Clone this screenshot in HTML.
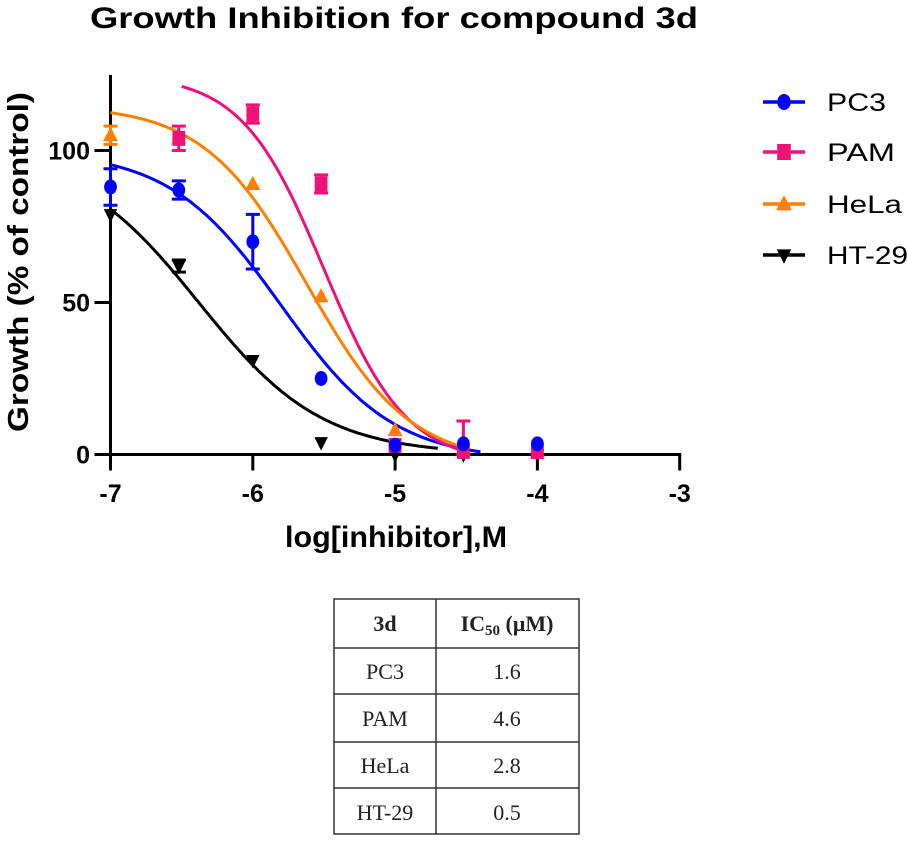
<!DOCTYPE html>
<html><head><meta charset="utf-8"><style>
html,body{margin:0;padding:0;background:#fff;}
svg{display:block;}
</style></head><body>
<svg id="chart" width="908" height="843" viewBox="0 0 908 843" xmlns="http://www.w3.org/2000/svg" font-family="Liberation Sans, Arial, sans-serif">
<text x="394" y="28" text-anchor="middle" font-weight="bold" font-size="30" textLength="608" lengthAdjust="spacingAndGlyphs">Growth Inhibition for compound 3d</text>
<g id="axes"></g>
<g id="curves"></g>
<g id="points"></g>
<g id="legend"></g>
<text transform="translate(28,262) rotate(-90)" text-anchor="middle" font-weight="bold" font-size="29" textLength="340" lengthAdjust="spacingAndGlyphs">Growth (% of control)</text>
<text x="396" y="547" text-anchor="middle" font-weight="bold" font-size="30" textLength="222" lengthAdjust="spacingAndGlyphs">log[inhibitor],M</text>
<g font-family="Liberation Serif, serif" font-size="22" fill="#222">
<rect x="334" y="599" width="245" height="235" fill="none" stroke="#333" stroke-width="1.5"/>
<line x1="436" y1="599" x2="436" y2="834" stroke="#333" stroke-width="1.5"/>
<line x1="334" y1="648" x2="579" y2="648" stroke="#333" stroke-width="1.5"/>
<line x1="334" y1="694" x2="579" y2="694" stroke="#333" stroke-width="1.5"/>
<line x1="334" y1="742" x2="579" y2="742" stroke="#333" stroke-width="1.5"/>
<line x1="334" y1="788" x2="579" y2="788" stroke="#333" stroke-width="1.5"/>
<text x="385" y="631" text-anchor="middle" font-weight="bold">3d</text>
<text x="507" y="631" text-anchor="middle" font-weight="bold">IC<tspan font-size="15" dy="4">50</tspan><tspan dy="-4"> (μM)</tspan></text>
<text x="385" y="679" text-anchor="middle">PC3</text><text x="507" y="679" text-anchor="middle">1.6</text>
<text x="385" y="726" text-anchor="middle">PAM</text><text x="507" y="726" text-anchor="middle">4.6</text>
<text x="385" y="773" text-anchor="middle">HeLa</text><text x="507" y="773" text-anchor="middle">2.8</text>
<text x="385" y="820" text-anchor="middle">HT-29</text><text x="507" y="820" text-anchor="middle">0.5</text>
</g>
</svg>
<script>
const xTicks = [-7, -6, -5, -4, -3];
const yTicks = [0, 50, 100];
const seriesNames = ["PC3", "PAM", "HeLa", "HT-29"];
const seriesColors = ["#0000ff", "#ee1177", "#ff7f00", "#000000"];
const doses = [-7, -6.52, -6, -5.52, -5, -4.52, -4];
const pc3Values = [88, 87, 70, 25, 3, 3.5, 3.5];
const pc3Errors = [6, 3, 9, 0, 0, 0, 0];
const pamValues = [null, 104, 112, 89, 3, 1, 1];
const pamErrors = [0, 4, 3, 3, 0, 10, 0];
const helaValues = [105, 104, 89, 52, 8, 2, 1];
const helaErrors = [3, 0, 0, 0, 0, 0, 0];
const ht29Values = [79, 62, 31, 4, 0, 0, 0];
const ht29Errors = [0, 2, 0, 0, 0, 0, 0];
// 4PL fit params
const fitTop = [100, 125, 115, 100];
const fitBottom = [-2, -3, -3, 0];
const fitLogIC50 = [-5.8, -5.5, -5.62, -6.38];
const fitHill = [1.1, 1.5, 1.2, 1.0];
const fitStart = [-7, -6.5, -7, -7];
const fitEnd = [-4.4, -4.52, -4.52, -4.7];

const NS = "http://www.w3.org/2000/svg";
const X0 = 110.5, XPX = 142.3, Y0 = 454.5, YPX = 3.04;
const xs = v => X0 + (v + 7) * XPX;
const ys = v => Y0 - v * YPX;
function mk(tag, attrs, parent){const e=document.createElementNS(NS,tag);for(const k in attrs)e.setAttribute(k,attrs[k]);parent.appendChild(e);return e;}

const axes = document.getElementById('axes');
let a = mk('line',{x1:X0,y1:75,x2:X0,y2:Y0+1.5,stroke:'#000','stroke-width':3},axes);
 
a = mk('line',{x1:X0-1.5,y1:Y0,x2:xs(-3)+1.5,y2:Y0,stroke:'#000','stroke-width':3},axes);
 
xTicks.forEach(t=>{
  const l=mk('line',{x1:xs(t),y1:Y0,x2:xs(t),y2:Y0+16,stroke:'#000','stroke-width':3},axes);
   
  const tx=mk('text',{x:xs(t),y:502,'text-anchor':'middle','font-weight':'bold','font-size':25},axes);
   
  tx.textContent=String(t);
});
yTicks.forEach(t=>{
  const l=mk('line',{x1:X0-16,y1:ys(t),x2:X0,y2:ys(t),stroke:'#000','stroke-width':3},axes);
   
  const tx=mk('text',{x:90,y:ys(t)+9,'text-anchor':'end','font-weight':'bold','font-size':25},axes);
   
  tx.textContent=String(t);
});

const curves = document.getElementById('curves');
for(let s=0;s<4;s++){
  let d='';
  for(let i=0;i<=120;i++){
    const x=fitStart[s]+(fitEnd[s]-fitStart[s])*i/120;
    const y=fitBottom[s]+(fitTop[s]-fitBottom[s])/(1+Math.pow(10,(x-fitLogIC50[s])*fitHill[s]));
    d+=(i?'L':'M')+xs(x).toFixed(1)+','+Math.min(ys(Math.max(y,0)),Y0).toFixed(1);
  }
  const p=mk('path',{d:d,fill:'none',stroke:seriesColors[s],'stroke-width':3},curves);
  
  
}

function marker(s,cx,cy,parent,sz){
  let e;
  if(s===0) e=mk('ellipse',{cx:cx,cy:cy,rx:sz*0.85,ry:sz,fill:seriesColors[s]},parent);
  else if(s===1) e=mk('rect',{x:cx-sz*0.85,y:cy-sz,width:sz*1.7,height:sz*2,fill:seriesColors[s]},parent);
  else if(s===2) e=mk('polygon',{points:`${cx},${cy-sz*1.1} ${cx-sz*1.0},${cy+sz*0.8} ${cx+sz*1.0},${cy+sz*0.8}`,fill:seriesColors[s]},parent);
  else e=mk('polygon',{points:`${cx},${cy+sz*1.1} ${cx-sz*0.9},${cy-sz*0.7} ${cx+sz*0.9},${cy-sz*0.7}`,fill:seriesColors[s]},parent);
  return e;
}
const pts = document.getElementById('points');
const allVals=[pc3Values,pamValues,helaValues,ht29Values];
const allErr=[pc3Errors,pamErrors,helaErrors,ht29Errors];
[3,2,1,0].forEach(s=>{
  doses.forEach((x,i)=>{
    const v=allVals[s][i]; if(v===null) return;
    const e=allErr[s][i];
    if(e>0){
      const lo=Math.max(v-e,0),hi=v+e;
      const g=mk('path',{d:`M${xs(x)},${ys(lo)}V${ys(hi)}M${xs(x)-7},${ys(lo)}H${xs(x)+7}M${xs(x)-7},${ys(hi)}H${xs(x)+7}`,stroke:seriesColors[s],'stroke-width':3,fill:'none'},pts);
      
      
    }
    const m=marker(s,xs(x),ys(v),pts,7.5);
    
    
  });
});

const leg=document.getElementById('legend');
const legY=[102,152,204,255];
seriesNames.forEach((n,s)=>{
  const g=mk('g',{},leg);
  
  
  mk('line',{x1:763,y1:legY[s],x2:805,y2:legY[s],stroke:seriesColors[s],'stroke-width':3.5},g);
  marker(s,784,legY[s],g,8);
  const t=mk('text',{x:827,y:legY[s]+9,'font-size':25},g);
  t.setAttribute('textLength',[59,68,75,81][s]);
  t.setAttribute('lengthAdjust','spacingAndGlyphs');
  t.textContent=n;
});
</script>
</body></html>
